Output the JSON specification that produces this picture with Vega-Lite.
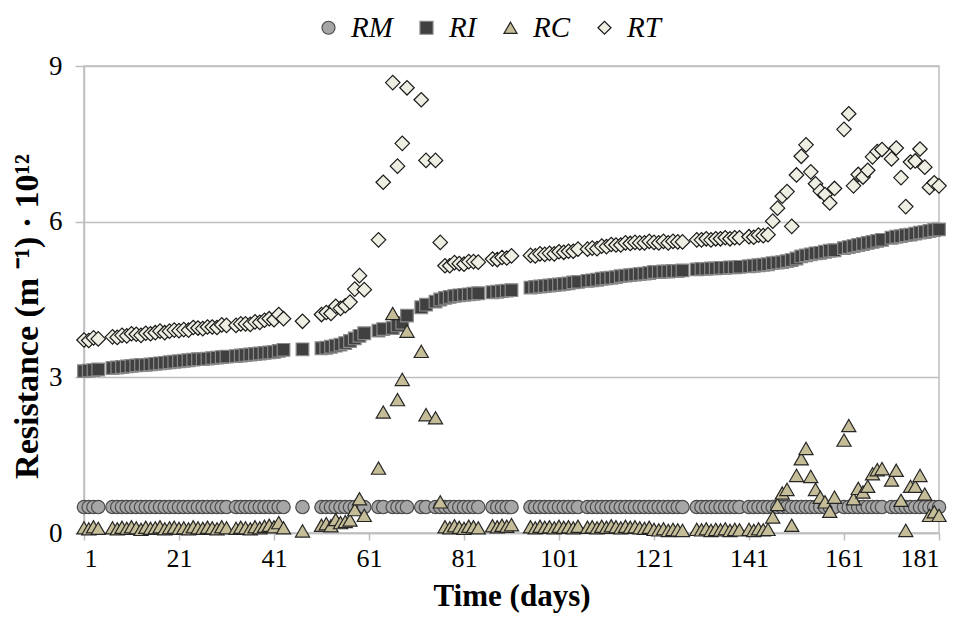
{
  "$schema": "https://vega.github.io/schema/vega-lite/v6.json",
  "width": 855,
  "height": 467,
  "autosize": "none",
  "padding": {"left": 84, "top": 66, "right": 25, "bottom": 91},
  "background": "white",
  "config": {
    "font": "Liberation Serif",
    "view": {"stroke": "#bfbfbf", "strokeWidth": 1.5}
  },
  "data": {
    "values": [
      {"d":1,"RM":0.5,"RI":3.12,"RC":0.10,"RT":3.72},
      {"d":2,"RM":0.5,"RI":3.13,"RC":0.08,"RT":3.71},
      {"d":3,"RM":0.5,"RI":3.14,"RC":0.12,"RT":3.76},
      {"d":4,"RM":0.5,"RI":3.15,"RC":0.09,"RT":3.74},
      {"d":7,"RM":0.5,"RI":3.18,"RC":0.10,"RT":3.78},
      {"d":8,"RM":0.5,"RI":3.19,"RC":0.08,"RT":3.77},
      {"d":9,"RM":0.5,"RI":3.20,"RC":0.11,"RT":3.81},
      {"d":10,"RM":0.5,"RI":3.21,"RC":0.09,"RT":3.80},
      {"d":11,"RM":0.5,"RI":3.22,"RC":0.12,"RT":3.84},
      {"d":12,"RM":0.5,"RI":3.23,"RC":0.10,"RT":3.83},
      {"d":13,"RM":0.5,"RI":3.24,"RC":0.07,"RT":3.81},
      {"d":14,"RM":0.5,"RI":3.24,"RC":0.11,"RT":3.85},
      {"d":15,"RM":0.5,"RI":3.25,"RC":0.09,"RT":3.84},
      {"d":16,"RM":0.5,"RI":3.26,"RC":0.10,"RT":3.86},
      {"d":17,"RM":0.5,"RI":3.27,"RC":0.12,"RT":3.89},
      {"d":18,"RM":0.5,"RI":3.28,"RC":0.08,"RT":3.86},
      {"d":19,"RM":0.5,"RI":3.29,"RC":0.10,"RT":3.89},
      {"d":20,"RM":0.5,"RI":3.30,"RC":0.11,"RT":3.91},
      {"d":21,"RM":0.5,"RI":3.31,"RC":0.09,"RT":3.90},
      {"d":22,"RM":0.5,"RI":3.32,"RC":0.10,"RT":3.92},
      {"d":23,"RM":0.5,"RI":3.33,"RC":0.08,"RT":3.91},
      {"d":24,"RM":0.5,"RI":3.34,"RC":0.12,"RT":3.96},
      {"d":25,"RM":0.5,"RI":3.35,"RC":0.10,"RT":3.95},
      {"d":26,"RM":0.5,"RI":3.35,"RC":0.09,"RT":3.94},
      {"d":27,"RM":0.5,"RI":3.36,"RC":0.11,"RT":3.97},
      {"d":28,"RM":0.5,"RI":3.37,"RC":0.10,"RT":3.97},
      {"d":29,"RM":0.5,"RI":3.38,"RC":0.08,"RT":3.96},
      {"d":30,"RM":0.5,"RI":3.39,"RC":0.12,"RT":4.01},
      {"d":31,"RM":0.5,"RI":3.40,"RC":0.10,"RT":4.00},
      {"d":33,"RM":0.5,"RI":3.41,"RC":0.09,"RT":4.00},
      {"d":34,"RM":0.5,"RI":3.42,"RC":0.11,"RT":4.03},
      {"d":35,"RM":0.5,"RI":3.43,"RC":0.10,"RT":4.03},
      {"d":36,"RM":0.5,"RI":3.44,"RC":0.08,"RT":4.02},
      {"d":37,"RM":0.5,"RI":3.45,"RC":0.12,"RT":4.07},
      {"d":38,"RM":0.5,"RI":3.46,"RC":0.10,"RT":4.06},
      {"d":39,"RM":0.5,"RI":3.47,"RC":0.13,"RT":4.10},
      {"d":40,"RM":0.5,"RI":3.48,"RC":0.15,"RT":4.13},
      {"d":41,"RM":0.5,"RI":3.49,"RC":0.12,"RT":4.11},
      {"d":42,"RM":0.5,"RI":3.51,"RC":0.20,"RT":4.21},
      {"d":43,"RM":0.5,"RI":3.53,"RC":0.10,"RT":4.13},
      {"d":47,"RM":0.5,"RI":3.54,"RC":0.04,"RT":4.08},
      {"d":51,"RM":0.5,"RI":3.56,"RC":0.15,"RT":4.21},
      {"d":52,"RM":0.5,"RI":3.57,"RC":0.18,"RT":4.25},
      {"d":53,"RM":0.5,"RI":3.59,"RC":0.14,"RT":4.23},
      {"d":54,"RM":0.5,"RI":3.61,"RC":0.26,"RT":4.37},
      {"d":55,"RM":0.5,"RI":3.63,"RC":0.20,"RT":4.33},
      {"d":56,"RM":0.5,"RI":3.66,"RC":0.22,"RT":4.38},
      {"d":57,"RM":0.5,"RI":3.70,"RC":0.25,"RT":4.45},
      {"d":58,"RM":0.5,"RI":3.75,"RC":0.45,"RT":4.70},
      {"d":59,"RM":0.5,"RI":3.80,"RC":0.66,"RT":4.96},
      {"d":60,"RM":0.5,"RI":3.85,"RC":0.34,"RT":4.69},
      {"d":63,"RM":0.5,"RI":3.90,"RC":1.25,"RT":5.65},
      {"d":64,"RM":0.5,"RI":3.93,"RC":2.33,"RT":6.76},
      {"d":66,"RM":0.5,"RI":3.95,"RC":4.23,"RT":8.68},
      {"d":67,"RM":0.5,"RI":4.00,"RC":2.57,"RT":7.07},
      {"d":68,"RM":0.5,"RI":4.05,"RC":2.96,"RT":7.51},
      {"d":69,"RM":0.5,"RI":4.19,"RC":3.89,"RT":8.58},
      {"d":72,"RM":0.5,"RI":4.35,"RC":3.50,"RT":8.35},
      {"d":73,"RM":0.5,"RI":4.40,"RC":2.28,"RT":7.18},
      {"d":75,"RM":0.5,"RI":4.46,"RC":2.22,"RT":7.18},
      {"d":76,"RM":0.5,"RI":4.50,"RC":0.60,"RT":5.60},
      {"d":77,"RM":0.5,"RI":4.53,"RC":0.12,"RT":5.15},
      {"d":78,"RM":0.5,"RI":4.55,"RC":0.10,"RT":5.15},
      {"d":79,"RM":0.5,"RI":4.57,"RC":0.14,"RT":5.21},
      {"d":80,"RM":0.5,"RI":4.58,"RC":0.11,"RT":5.19},
      {"d":81,"RM":0.5,"RI":4.59,"RC":0.09,"RT":5.18},
      {"d":82,"RM":0.5,"RI":4.60,"RC":0.13,"RT":5.23},
      {"d":83,"RM":0.5,"RI":4.61,"RC":0.12,"RT":5.23},
      {"d":84,"RM":0.5,"RI":4.62,"RC":0.10,"RT":5.22},
      {"d":87,"RM":0.5,"RI":4.64,"RC":0.14,"RT":5.28},
      {"d":88,"RM":0.5,"RI":4.65,"RC":0.12,"RT":5.27},
      {"d":89,"RM":0.5,"RI":4.66,"RC":0.15,"RT":5.31},
      {"d":90,"RM":0.5,"RI":4.67,"RC":0.13,"RT":5.30},
      {"d":91,"RM":0.5,"RI":4.68,"RC":0.16,"RT":5.34},
      {"d":95,"RM":0.5,"RI":4.73,"RC":0.12,"RT":5.35},
      {"d":96,"RM":0.5,"RI":4.74,"RC":0.10,"RT":5.34},
      {"d":97,"RM":0.5,"RI":4.75,"RC":0.13,"RT":5.38},
      {"d":98,"RM":0.5,"RI":4.76,"RC":0.11,"RT":5.37},
      {"d":99,"RM":0.5,"RI":4.77,"RC":0.12,"RT":5.39},
      {"d":100,"RM":0.5,"RI":4.78,"RC":0.10,"RT":5.38},
      {"d":101,"RM":0.5,"RI":4.79,"RC":0.13,"RT":5.42},
      {"d":102,"RM":0.5,"RI":4.80,"RC":0.11,"RT":5.41},
      {"d":103,"RM":0.5,"RI":4.81,"RC":0.12,"RT":5.43},
      {"d":104,"RM":0.5,"RI":4.83,"RC":0.10,"RT":5.43},
      {"d":105,"RM":0.5,"RI":4.84,"RC":0.13,"RT":5.47},
      {"d":107,"RM":0.5,"RI":4.86,"RC":0.11,"RT":5.47},
      {"d":108,"RM":0.5,"RI":4.87,"RC":0.12,"RT":5.49},
      {"d":109,"RM":0.5,"RI":4.88,"RC":0.10,"RT":5.48},
      {"d":110,"RM":0.5,"RI":4.90,"RC":0.13,"RT":5.53},
      {"d":111,"RM":0.5,"RI":4.91,"RC":0.11,"RT":5.52},
      {"d":112,"RM":0.5,"RI":4.92,"RC":0.14,"RT":5.56},
      {"d":113,"RM":0.5,"RI":4.93,"RC":0.12,"RT":5.55},
      {"d":114,"RM":0.5,"RI":4.95,"RC":0.10,"RT":5.55},
      {"d":115,"RM":0.5,"RI":4.96,"RC":0.13,"RT":5.59},
      {"d":116,"RM":0.5,"RI":4.97,"RC":0.11,"RT":5.58},
      {"d":117,"RM":0.5,"RI":4.98,"RC":0.12,"RT":5.60},
      {"d":118,"RM":0.5,"RI":4.99,"RC":0.10,"RT":5.59},
      {"d":119,"RM":0.5,"RI":5.00,"RC":0.09,"RT":5.59},
      {"d":120,"RM":0.5,"RI":5.01,"RC":0.11,"RT":5.62},
      {"d":121,"RM":0.5,"RI":5.03,"RC":0.07,"RT":5.60},
      {"d":122,"RM":0.5,"RI":5.03,"RC":0.06,"RT":5.59},
      {"d":123,"RM":0.5,"RI":5.04,"RC":0.08,"RT":5.62},
      {"d":124,"RM":0.5,"RI":5.04,"RC":0.05,"RT":5.59},
      {"d":125,"RM":0.5,"RI":5.05,"RC":0.07,"RT":5.62},
      {"d":126,"RM":0.5,"RI":5.05,"RC":0.06,"RT":5.61},
      {"d":127,"RM":0.5,"RI":5.06,"RC":0.05,"RT":5.61},
      {"d":130,"RM":0.5,"RI":5.08,"RC":0.07,"RT":5.65},
      {"d":131,"RM":0.5,"RI":5.09,"RC":0.06,"RT":5.65},
      {"d":132,"RM":0.5,"RI":5.09,"RC":0.08,"RT":5.67},
      {"d":133,"RM":0.5,"RI":5.10,"RC":0.05,"RT":5.65},
      {"d":134,"RM":0.5,"RI":5.10,"RC":0.07,"RT":5.67},
      {"d":135,"RM":0.5,"RI":5.11,"RC":0.06,"RT":5.67},
      {"d":136,"RM":0.5,"RI":5.11,"RC":0.08,"RT":5.69},
      {"d":137,"RM":0.5,"RI":5.12,"RC":0.05,"RT":5.67},
      {"d":138,"RM":0.5,"RI":5.12,"RC":0.07,"RT":5.69},
      {"d":139,"RM":0.5,"RI":5.13,"RC":0.06,"RT":5.69},
      {"d":141,"RM":0.5,"RI":5.14,"RC":0.07,"RT":5.71},
      {"d":142,"RM":0.5,"RI":5.15,"RC":0.05,"RT":5.70},
      {"d":143,"RM":0.5,"RI":5.16,"RC":0.08,"RT":5.74},
      {"d":144,"RM":0.5,"RI":5.17,"RC":0.06,"RT":5.73},
      {"d":145,"RM":0.5,"RI":5.18,"RC":0.07,"RT":5.75},
      {"d":146,"RM":0.5,"RI":5.20,"RC":0.31,"RT":6.01},
      {"d":147,"RM":0.5,"RI":5.21,"RC":0.55,"RT":6.26},
      {"d":148,"RM":0.5,"RI":5.22,"RC":0.77,"RT":6.49},
      {"d":149,"RM":0.5,"RI":5.24,"RC":0.84,"RT":6.58},
      {"d":150,"RM":0.5,"RI":5.26,"RC":0.15,"RT":5.91},
      {"d":151,"RM":0.5,"RI":5.29,"RC":1.11,"RT":6.90},
      {"d":152,"RM":0.5,"RI":5.33,"RC":1.43,"RT":7.26},
      {"d":153,"RM":0.5,"RI":5.35,"RC":1.63,"RT":7.48},
      {"d":154,"RM":0.5,"RI":5.37,"RC":1.09,"RT":6.96},
      {"d":155,"RM":0.5,"RI":5.39,"RC":0.84,"RT":6.73},
      {"d":156,"RM":0.5,"RI":5.40,"RC":0.69,"RT":6.59},
      {"d":157,"RM":0.5,"RI":5.42,"RC":0.60,"RT":6.52},
      {"d":158,"RM":0.5,"RI":5.44,"RC":0.42,"RT":6.36},
      {"d":159,"RM":0.5,"RI":5.45,"RC":0.69,"RT":6.64},
      {"d":161,"RM":0.5,"RI":5.49,"RC":1.79,"RT":7.78},
      {"d":162,"RM":0.5,"RI":5.51,"RC":2.07,"RT":8.08},
      {"d":163,"RM":0.5,"RI":5.53,"RC":0.66,"RT":6.69},
      {"d":164,"RM":0.5,"RI":5.55,"RC":0.86,"RT":6.91},
      {"d":165,"RM":0.5,"RI":5.57,"RC":0.79,"RT":6.86},
      {"d":166,"RM":0.5,"RI":5.59,"RC":0.90,"RT":6.99},
      {"d":167,"RM":0.5,"RI":5.61,"RC":1.14,"RT":7.25},
      {"d":168,"RM":0.5,"RI":5.63,"RC":1.22,"RT":7.35},
      {"d":169,"RM":0.5,"RI":5.65,"RC":1.24,"RT":7.39},
      {"d":171,"RM":0.5,"RI":5.69,"RC":1.02,"RT":7.21},
      {"d":172,"RM":0.5,"RI":5.71,"RC":1.21,"RT":7.42},
      {"d":173,"RM":0.5,"RI":5.72,"RC":0.63,"RT":6.85},
      {"d":174,"RM":0.5,"RI":5.74,"RC":0.05,"RT":6.29},
      {"d":175,"RM":0.5,"RI":5.75,"RC":0.90,"RT":7.15},
      {"d":176,"RM":0.5,"RI":5.77,"RC":0.90,"RT":7.17},
      {"d":177,"RM":0.5,"RI":5.79,"RC":1.11,"RT":7.40},
      {"d":178,"RM":0.5,"RI":5.80,"RC":0.75,"RT":7.05},
      {"d":179,"RM":0.5,"RI":5.82,"RC":0.34,"RT":6.66},
      {"d":180,"RM":0.5,"RI":5.84,"RC":0.41,"RT":6.75},
      {"d":181,"RM":0.5,"RI":5.85,"RC":0.34,"RT":6.69}
    ]
  },
  "transform": [{"fold": ["RM", "RI", "RC", "RT"], "as": ["s", "v"]}],
  "encoding": {
    "x": {
      "field": "d", "type": "quantitative",
      "scale": {"domain": [1, 181], "nice": false, "zero": false},
      "axis": {
        "values": [1, 21, 41, 61, 81, 101, 121, 141, 161, 181],
        "grid": false,
        "domainColor": "#bfbfbf", "domainWidth": 1.5,
        "tickColor": "#bfbfbf", "tickWidth": 1.5, "tickSize": 7,
        "labelFontSize": 26, "labelColor": "#000000", "labelPadding": 5,
        "labelFont": "Liberation Serif",
        "title": "Time (days)", "titleFontSize": 31, "titleFontWeight": "bold",
        "titleColor": "#000000", "titlePadding": 10, "titleFont": "Liberation Serif"
      }
    },
    "y": {
      "field": "v", "type": "quantitative",
      "scale": {"domain": [0, 9], "nice": false, "zero": true},
      "axis": {
        "values": [0, 3, 6, 9],
        "grid": true, "gridColor": "#c0c0c0", "gridWidth": 1.5,
        "domainColor": "#bfbfbf", "domainWidth": 1.5,
        "tickColor": "#bfbfbf", "tickWidth": 1.5, "tickSize": 9,
        "labelFontSize": 27, "labelColor": "#000000", "labelPadding": 13,
        "labelFont": "Liberation Serif",
        "title": "Resistance (m  ⁻¹)  ·  10¹²", "titleFontSize": 34, "titleFontWeight": "bold",
        "titleColor": "#000000", "titleFont": "Liberation Serif",
        "titleX": -57, "titleY": 250, "titleAngle": -90,
        "titleAlign": "center", "titleBaseline": "middle"
      }
    },
    "shape": {
      "field": "s", "type": "nominal",
      "scale": {"domain": ["RM", "RI", "RC", "RT"], "range": ["circle", "square", "triangle-up", "diamond"]},
      "legend": {
        "title": null, "orient": "none", "direction": "horizontal",
        "legendX": 230, "legendY": -53,
        "labelFontSize": 29, "labelFontStyle": "italic", "labelFont": "Liberation Serif",
        "labelColor": "#000000", "labelOffset": 8, "columnPadding": 19,
        "symbolSize": 170, "symbolStrokeWidth": 1.2
      }
    },
    "fill": {
      "field": "s", "type": "nominal",
      "scale": {"domain": ["RM", "RI", "RC", "RT"], "range": ["#a6a6a6", "#404040", "#c4bd97", "#efeee2"]}
    },
    "stroke": {
      "field": "s", "type": "nominal",
      "scale": {"domain": ["RM", "RI", "RC", "RT"], "range": ["#4a4a4a", "#8a8a8a", "#262626", "#1a1a1a"]}
    }
  },
  "layer": [
    {"transform": [{"filter": "datum.s === 'RM'"}], "mark": {"type": "point", "filled": true, "opacity": 1, "size": 180, "strokeWidth": 1.2}},
    {"transform": [{"filter": "datum.s === 'RI'"}], "mark": {"type": "point", "filled": true, "opacity": 1, "size": 160, "strokeWidth": 1.2}},
    {"transform": [{"filter": "datum.s === 'RC'"}], "mark": {"type": "point", "filled": true, "opacity": 1, "size": 200, "strokeWidth": 1.2}},
    {"transform": [{"filter": "datum.s === 'RT'"}], "mark": {"type": "point", "filled": true, "opacity": 1, "size": 210, "strokeWidth": 1.2}}
  ]
}
